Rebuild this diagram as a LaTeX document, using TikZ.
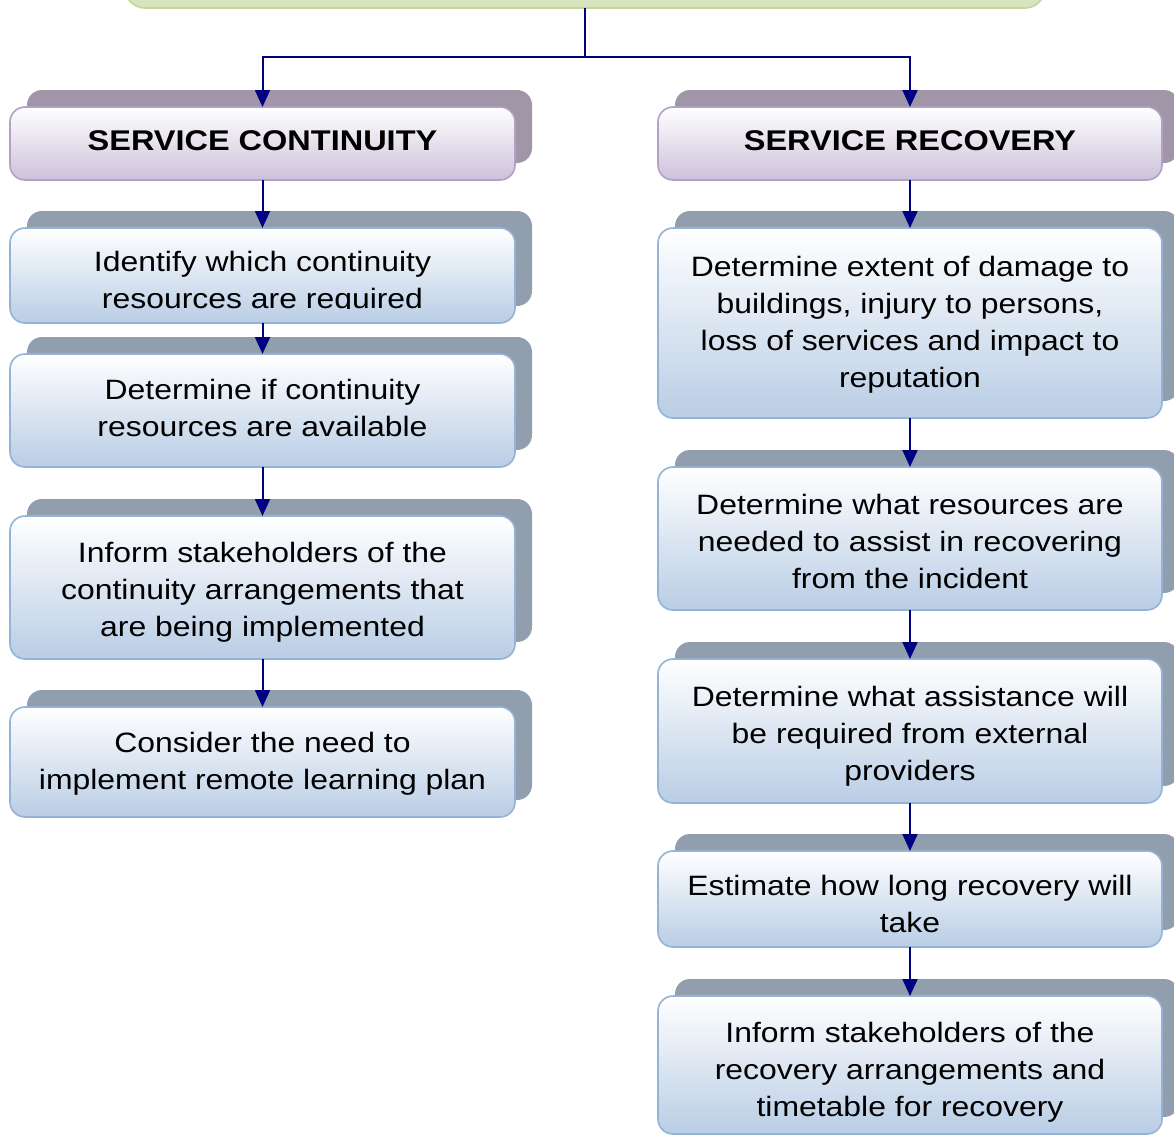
\documentclass[tikz,border=0pt]{standalone}
\usepackage{fontspec}
\setmainfont{Liberation Sans}[FakeStretch=1.14]
\usetikzlibrary{arrows.meta}
\definecolor{boxborder}{RGB}{149,179,215}
\definecolor{boxbot}{RGB}{185,205,229}
\definecolor{boxshadow}{RGB}{145,158,174}
\definecolor{hdborder}{RGB}{178,161,199}
\definecolor{hdbot}{RGB}{204,193,218}
\definecolor{hdshadow}{RGB}{160,150,168}
\definecolor{topfill}{RGB}{215,228,189}
\definecolor{topborder}{RGB}{195,214,155}
\definecolor{navyline}{RGB}{0,0,128}
\tikzset{
  basebox/.style={rectangle, rounded corners=15pt, inner sep=0pt, outer sep=0pt},
  stepbox/.style={basebox, draw=boxborder, line width=1.6pt, top color=white, bottom color=boxbot},
  stepshadow/.style={basebox, fill=boxshadow},
  headbox/.style={basebox, draw=hdborder, line width=1.6pt, top color=white, bottom color=hdbot},
  headshadow/.style={basebox, fill=hdshadow},
  toptbox/.style={basebox, rounded corners=20pt, draw=topborder, line width=1.6pt, fill=topfill},
  steptext/.style={align=center, inner sep=0pt, font=\fontsize{28}{37}\selectfont},
  headtext/.style={align=center, inner sep=0pt, font=\fontsize{28.5}{34}\selectfont\bfseries},
  conn/.style={draw=navyline, line width=2pt},
  arr/.style={conn, -{Triangle[width=15pt,length=17pt]}},
}
\begin{document}
\begin{tikzpicture}[x=1pt,y=-1pt]
\useasboundingbox (0,0) rectangle (1174,1136);
\clip (0,0) rectangle (1174,1136);
% top box (cut off at page top)
\node[toptbox, minimum width=920pt, minimum height=80pt] (top) at (585,-32) {};
% ---------- left column ----------
\node[headshadow, minimum width=505pt, minimum height=73pt] (HCs) at (279.5,126.5) {};
\node[headbox, minimum width=505pt, minimum height=73pt] (HC) at (262.5,143.5) {};
\node[headtext] (HCt) at (262.5,140.5) {SERVICE CONTINUITY};

\node[stepshadow, minimum width=505pt, minimum height=95pt] (L1s) at (279.5,258.5) {};
\node[stepbox, minimum width=505pt, minimum height=95pt] (L1) at (262.5,275.5) {};
\begin{scope}
\clip (0,0) rectangle (1174,308);
\node[steptext] (L1t) at (262.5,282.5) {Identify which continuity\\resources are required};
\end{scope}

\node[stepshadow, minimum width=505pt, minimum height=113pt] (L2s) at (279.5,393.5) {};
\node[stepbox, minimum width=505pt, minimum height=113pt] (L2) at (262.5,410.5) {};
\node[steptext] (L2t) at (262.5,408) {Determine if continuity\\resources are available};

\node[stepshadow, minimum width=505pt, minimum height=143pt] (L3s) at (279.5,570.5) {};
\node[stepbox, minimum width=505pt, minimum height=143pt] (L3) at (262.5,587.5) {};
\begin{scope}
\clip (0,0) rectangle (1174,642);
\node[steptext] (L3t) at (262.5,592) {Inform stakeholders of the\\continuity arrangements that\\are being implemented};
\end{scope}

\node[stepshadow, minimum width=505pt, minimum height=110pt] (L4s) at (279.5,745) {};
\node[stepbox, minimum width=505pt, minimum height=110pt] (L4) at (262.5,762) {};
\node[steptext] (L4t) at (262.5,764) {Consider the need to\\implement remote learning plan};

% ---------- right column ----------
\node[headshadow, minimum width=504pt, minimum height=73pt] (HRs) at (927,126.5) {};
\node[headbox, minimum width=504pt, minimum height=73pt] (HR) at (910,143.5) {};
\node[headtext] (HRt) at (910,140.5) {SERVICE RECOVERY};

\node[stepshadow, minimum width=504pt, minimum height=190pt] (R1s) at (927,306) {};
\node[stepbox, minimum width=504pt, minimum height=190pt] (R1) at (910,323) {};
\node[steptext] (R1t) at (910,324.5) {Determine extent of damage to\\buildings, injury to persons,\\loss of services and impact to\\reputation};

\node[stepshadow, minimum width=504pt, minimum height=143pt] (R2s) at (927,521.5) {};
\node[stepbox, minimum width=504pt, minimum height=143pt] (R2) at (910,538.5) {};
\node[steptext] (R2t) at (910,541.5) {Determine what resources are\\needed to assist in recovering\\from the incident};

\node[stepshadow, minimum width=504pt, minimum height=144pt] (R3s) at (927,714) {};
\node[stepbox, minimum width=504pt, minimum height=144pt] (R3) at (910,731) {};
\node[steptext] (R3t) at (910,736) {Determine what assistance will\\be required from external\\providers};

\node[stepshadow, minimum width=504pt, minimum height=96pt] (R4s) at (927,882) {};
\node[stepbox, minimum width=504pt, minimum height=96pt] (R4) at (910,899) {};
\begin{scope}
\clip (0,0) rectangle (1174,932);
\node[steptext] (R4t) at (910,904) {Estimate how long recovery will\\take};
\end{scope}

\node[stepshadow, minimum width=504pt, minimum height=138pt] (R5s) at (927,1048) {};
\node[stepbox, minimum width=504pt, minimum height=138pt] (R5) at (910,1065) {};
\node[steptext] (R5t) at (910,1072) {Inform stakeholders of the\\recovery arrangements and\\timetable for recovery};

% ---------- connectors ----------
\coordinate (split) at (585,57);
\draw[conn] (top.south) -- (split);
\draw[arr] (split) -| (HC.north);
\draw[arr] (split) -| (HR.north);
\draw[arr] (HC) -- (L1);
\draw[arr] (L1) -- (L2);
\draw[arr] (L2) -- (L3);
\draw[arr] (L3) -- (L4);
\draw[arr] (HR) -- (R1);
\draw[arr] (R1) -- (R2);
\draw[arr] (R2) -- (R3);
\draw[arr] (R3) -- (R4);
\draw[arr] (R4) -- (R5);
\end{tikzpicture}
\end{document}
